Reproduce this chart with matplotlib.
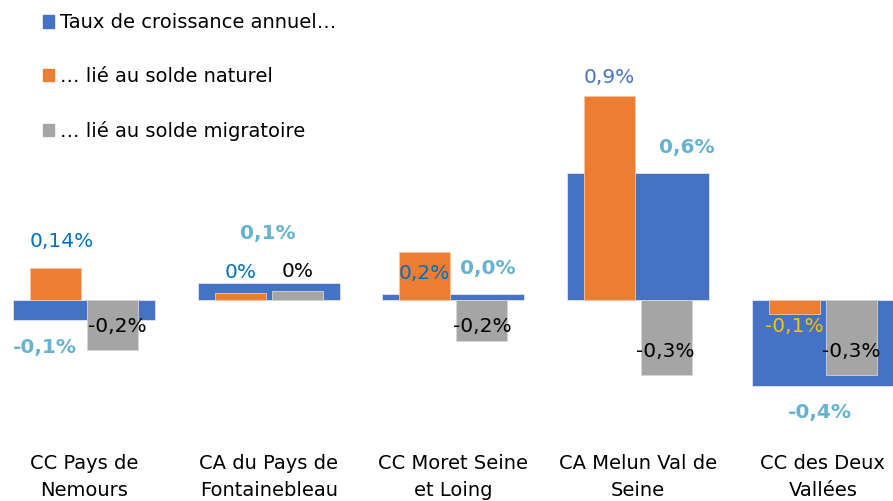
import matplotlib
matplotlib.use("Agg")
import matplotlib.pyplot as plt
from matplotlib.patches import Patch

plt.rcParams['font.family'] = ['DejaVu Sans']

# data (growth rates, % per year)
territoires = ["CC Pays de\nNemours", "CA du Pays de\nFontainebleau", "CC Moret Seine\net Loing",
               "CA Melun Val de\nSeine", "CC des Deux\nVallées"]
taux_annuel = [-0.09, 0.075, 0.026, 0.56, -0.38]
solde_naturel = [0.14, 0.03, 0.21, 0.90, -0.06]
solde_migratoire = [-0.22, 0.04, -0.18, -0.33, -0.33]

# decimals shown in each data label
dec_annuel = [1, 1, 1, 1, 1]
dec_naturel = [2, 0, 1, 1, 1]
dec_migratoire = [1, 0, 1, 1, 1]

series_names = ["Taux de croissance annuel…", "… lié au solde naturel", "… lié au solde migratoire"]

BLUE = "#4472C4"
ORANGE = "#ED7D31"
GREY = "#A5A5A5"

# label offsets in pixels from the end of each bar
off_annuel = [(-39, -27), (-1, 49), (34, 26), (49, 25), (-3, -26)]
off_naturel = [(6, 27), (0, 21), (-1, -21), (0, 18), (0, -13)]
off_migratoire = [(5, 23), (0, 19), (0, 14), (-1, 23), (0, 23)]
col_naturel = ["#0070C0", "#0070C0", "#0070C0", "#4472C4", "#FFC000"]


def fmt(v, d):
    return f"{v:.{d}f}%".replace(".", ",")


def put_labels(ax, xs, vals, decs, offs, colors, weight="normal"):
    for x, v, d, o, c in zip(xs, vals, decs, offs, colors):
        ax.annotate(fmt(v, d), (x, v), xytext=o, textcoords="offset pixels",
                    ha="center", va="center", fontsize=14.5, color=c,
                    fontweight=weight, zorder=5)


fig = plt.figure(figsize=(8.93, 5.01), dpi=100)
ax = fig.add_axes([0, 71 / 501, 1, 430 / 501])

x = list(range(len(territoires)))
wide = 0.769
narrow = 0.276
shift = 0.154

ax.bar(x, taux_annuel, width=wide, color=BLUE, edgecolor="#DDE4F3", linewidth=0.6, zorder=1)
xo = [i - shift for i in x]
xg = [i + shift for i in x]
ax.bar(xo, solde_naturel, width=narrow, color=ORANGE, edgecolor="#F7C6A8", linewidth=0.6, zorder=2)
ax.bar(xg, solde_migratoire, width=narrow, color=GREY, edgecolor="#D6D6D6", linewidth=0.6, zorder=2)

put_labels(ax, x, taux_annuel, dec_annuel, off_annuel, ["#66B2D0"] * 5, weight="semibold")
put_labels(ax, xo, solde_naturel, dec_naturel, off_naturel, col_naturel)
put_labels(ax, xg, solde_migratoire, dec_migratoire, off_migratoire, ["black"] * 5)

ax.set_xlim(-0.455, 4.38)
ax.set_ylim(-0.573, 1.322)
ax.set_xticks(x)
ax.set_xticklabels(territoires, fontsize=14, linespacing=1.55)
ax.tick_params(axis="x", length=0, pad=17)
ax.set_yticks([])
for s in ax.spines.values():
    s.set_visible(False)

handles = [Patch(color=c) for c in (BLUE, ORANGE, GREY)]
fig.legend(handles, series_names, loc="upper left", bbox_to_anchor=(25 / 893, 1 + 4 / 501),
           frameon=False, fontsize=14, handlelength=0.6, handleheight=0.6,
           handletextpad=0.3, labelspacing=1.78)

fig.savefig("out.png", dpi=100)
